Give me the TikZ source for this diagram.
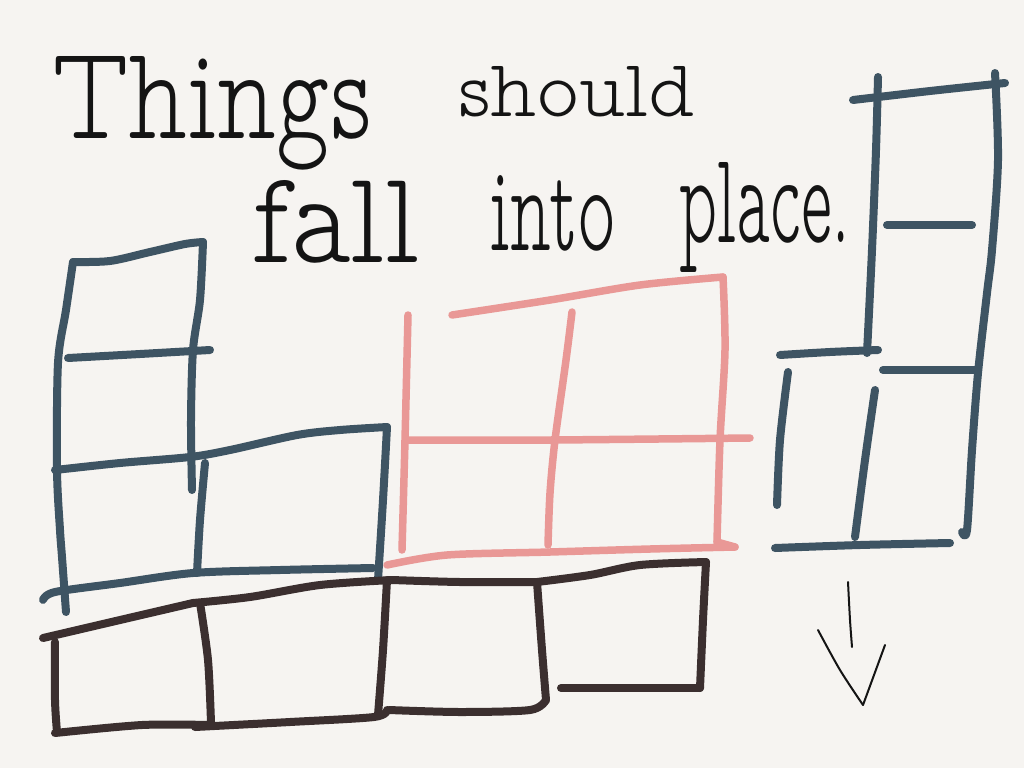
\documentclass[tikz,border=0pt]{standalone}
\usepackage{fontspec}
\usepackage{graphicx}
\newfontfamily\handfont{lmmonoproplt10-regular.otf}
\definecolor{paper}{RGB}{246,244,241}
\definecolor{slate}{RGB}{62,84,99}
\definecolor{rose}{RGB}{233,152,150}
\definecolor{umber}{RGB}{59,47,47}
\definecolor{ink}{RGB}{20,20,20}
\tikzset{
  stroke/.style={line width=8pt, line cap=round, line join=round},
  bluestroke/.style={stroke, draw=slate},
  pinkstroke/.style={stroke, draw=rose, line width=7.5pt},
  blackstroke/.style={stroke, draw=umber},
  pen/.style={line width=2pt, draw=ink, line cap=round, line join=round},
  handtext/.style={inner sep=0pt, outer sep=0pt, text=ink, font=\handfont\fontsize{60}{70}\selectfont},
  sm/.style={smooth, tension=0.5}
}
\begin{document}
\begin{tikzpicture}[x=1pt, y=-1pt]
\fill[paper] (0,0) rectangle (1024,768);
\useasboundingbox (0,0) rectangle (1024,768);

% handwriting
\node[handtext, anchor=base west] (w1) at (52,138) {\resizebox{320pt}{82pt}{Things}};
\node[handtext, anchor=base west] (w2) at (458,116) {\resizebox{237pt}{50pt}{should}};
\node[handtext, anchor=base west] (w3) at (252,262) {\resizebox{168pt}{82pt}{fall}};
\node[handtext, anchor=base west] (w4) at (490,250) {\resizebox{125pt}{75pt}{into}};
\node[handtext, anchor=base west] (w5) at (679,242) {\resizebox{172pt}{80pt}{place.}};

% left blue block
\draw[bluestroke] plot[sm] coordinates {(73,262) (66,310) (58,363) (57,470) (60,530) (62,557) (66,612)};
\draw[bluestroke] plot[sm] coordinates {(73,262) (110,261) (150,252) (185,244) (203,242)};
\draw[bluestroke] plot[sm] coordinates {(203,242) (200,300) (193,350) (191,420) (192,490)};
\draw[bluestroke] plot[sm] coordinates {(68,358) (140,354) (210,350)};
\draw[bluestroke] plot[sm] coordinates {(55,470) (120,463) (190,457) (230,450) (297,435) (340,430) (387,427)};
\draw[bluestroke] plot[sm] coordinates {(387,427) (383,500) (378,580)};
\draw[bluestroke] plot[sm] coordinates {(205,463) (200,520) (197,573)};
\draw[bluestroke] plot[sm] coordinates {(43,600) (55,592) (120,583) (193,573) (280,570) (373,568)};

% pink block
\draw[pinkstroke] plot[sm] coordinates {(408,315) (405,440) (402,550)};
\draw[pinkstroke] plot[sm] coordinates {(452,315) (550,300) (640,285) (723,277)};
\draw[pinkstroke] plot[sm] coordinates {(723,277) (725,350) (720,440) (717,542)};
\draw[pinkstroke] plot[sm] coordinates {(387,565) (447,555) (550,552) (650,549) (735,547)};
\draw[pinkstroke] (717,542) -- (735,547);
\draw[pinkstroke] plot[sm] coordinates {(572,312) (566,360) (555,440) (550,493) (548,545)};
\draw[pinkstroke] plot[sm] coordinates {(408,440) (550,440) (750,438)};

% right blue block
\draw[bluestroke] plot[sm] coordinates {(853,100) (930,91) (1005,83)};
\draw[bluestroke] plot[sm] coordinates {(878,77) (876,150) (872,250) (867,353)};
\draw[bluestroke] plot[sm] coordinates {(995,73) (998,160) (992,250) (987,293) (978,373) (972,450) (967,530) (962,532)};
\draw[bluestroke] plot[sm] coordinates {(887,225) (972,225)};
\draw[bluestroke] plot[sm] coordinates {(780,355) (830,352) (878,350)};
\draw[bluestroke] plot[sm] coordinates {(883,370) (978,370)};
\draw[bluestroke] plot[sm] coordinates {(788,372) (780,440) (777,505)};
\draw[bluestroke] plot[sm] coordinates {(875,390) (865,460) (855,537)};
\draw[bluestroke] plot[sm] coordinates {(775,548) (860,545) (950,543)};

% black bottom row
\draw[blackstroke] plot[sm] coordinates {(43,638) (120,620) (193,603)};
\draw[blackstroke] plot[sm] coordinates {(193,603) (250,597) (320,585) (392,580)};
\draw[blackstroke] plot[sm] coordinates {(55,642) (55,700) (57,732)};
\draw[blackstroke] plot[sm] coordinates {(55,733) (142,725) (209,725)};
\draw[blackstroke] plot[sm] coordinates {(195,727) (290,722) (374,717) (387,710)};
\draw[blackstroke] plot[sm] coordinates {(200,603) (208,660) (211,723)};
\draw[blackstroke] plot[sm] coordinates {(387,580) (383,650) (378,715)};
\draw[blackstroke] plot[sm] coordinates {(392,580) (460,582) (537,582)};
\draw[blackstroke] plot[sm] coordinates {(537,582) (542,650) (546,700)};
\draw[blackstroke] plot[sm] coordinates {(389,710) (460,712) (530,710) (546,700)};
\draw[blackstroke] plot[sm] coordinates {(537,582) (590,575) (640,565) (706,562)};
\draw[blackstroke] plot[sm] coordinates {(706,562) (703,620) (700,688)};
\draw[blackstroke] plot[sm] coordinates {(561,688) (700,688)};

% arrow
\draw[pen] plot[sm] coordinates {(848,582) (850,620) (852,647)};
\draw[pen] plot[sm] coordinates {(818,630) (840,670) (863,705)};
\draw[pen] (863,705) -- (885,645);
\end{tikzpicture}
\end{document}
